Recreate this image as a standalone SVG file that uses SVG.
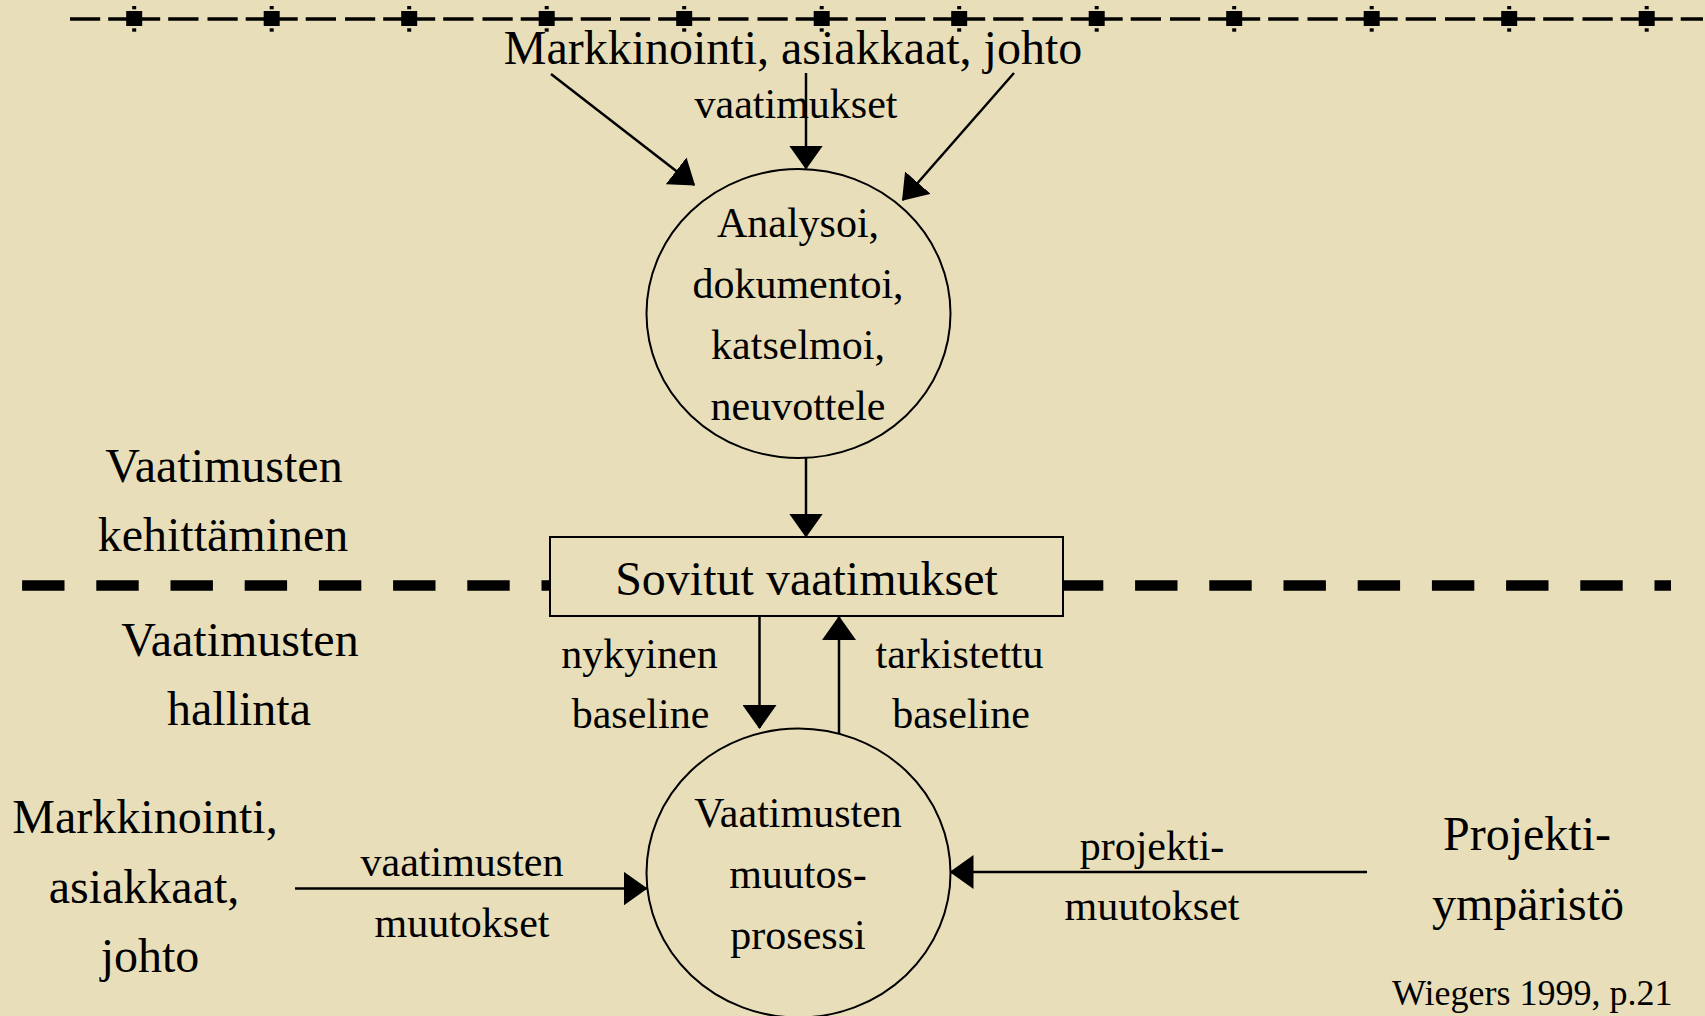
<svg xmlns="http://www.w3.org/2000/svg" width="1705" height="1016" viewBox="0 0 1705 1016">
  <style>
    .t { font-family: "Liberation Serif", "Times New Roman", serif; fill: #000; text-anchor: middle; }
    .big { font-size: 48px; }
    .mid { font-size: 42px; }
    .sm { font-size: 36px; }
    .edge { stroke: #000; stroke-width: 2.5; fill: none; }
    .node { stroke: #000; stroke-width: 2; fill: #E8DFBA; }
  </style>
  <defs>
    <marker id="arr" viewBox="0 0 24 34" refX="23" refY="17" markerWidth="24" markerHeight="34" markerUnits="userSpaceOnUse" orient="auto">
      <path d="M0,0 L24,17 L0,34 Z" fill="#000"/>
    </marker>
    <g id="tick">
      <rect x="-8" y="11" width="16" height="15" fill="#000"/>
      <rect x="-2" y="6" width="4" height="3.3" fill="#000"/>
      <rect x="-2" y="28.3" width="4" height="3.4" fill="#000"/>
    </g>
  </defs>

  <rect x="0" y="0" width="1705" height="1016" fill="#E8DFBA"/>

  <g id="top-border">
    <line x1="70" y1="19" x2="1703" y2="19" stroke="#000" stroke-width="3.3" stroke-dasharray="30.3 9 30.2 8 52 8" stroke-dashoffset="39.3"/>
    <use href="#tick" x="134.2"/>
    <use href="#tick" x="271.7"/>
    <use href="#tick" x="409.2"/>
    <use href="#tick" x="546.7"/>
    <use href="#tick" x="684.2"/>
    <use href="#tick" x="821.7"/>
    <use href="#tick" x="959.2"/>
    <use href="#tick" x="1096.7"/>
    <use href="#tick" x="1234.2"/>
    <use href="#tick" x="1371.7"/>
    <use href="#tick" x="1509.2"/>
    <use href="#tick" x="1646.7"/>
  </g>

  <g id="divider">
    <line x1="22.1" y1="585.5" x2="1671" y2="585.5" stroke="#000" stroke-width="10.5" stroke-dasharray="42.4 31.8"/>
  </g>

  <g id="section-labels">
    <text class="t big" x="224" y="482">Vaatimusten</text>
    <text class="t big" x="223" y="551">kehittäminen</text>
    <text class="t big" x="240" y="656">Vaatimusten</text>
    <text class="t big" x="239" y="725">hallinta</text>
  </g>

  <g id="source-top">
    <text class="t big" x="793" y="64">Markkinointi, asiakkaat, johto</text>
  </g>

  <g id="analysoi">
    <ellipse class="node" cx="798.5" cy="313.5" rx="152" ry="144.5"/>
    <text class="t mid" x="798" y="237">Analysoi,</text>
    <text class="t mid" x="798" y="298">dokumentoi,</text>
    <text class="t mid" x="798" y="359">katselmoi,</text>
    <text class="t mid" x="798" y="420">neuvottele</text>
  </g>

  <g id="sovitut">
    <rect class="node" x="550" y="537" width="513" height="79"/>
    <text class="t big" x="806.5" y="595">Sovitut vaatimukset</text>
  </g>

  <g id="muutosprosessi">
    <ellipse class="node" cx="798.5" cy="873" rx="152" ry="144.5"/>
    <text class="t mid" x="798" y="827">Vaatimusten</text>
    <text class="t mid" x="798" y="888">muutos-</text>
    <text class="t mid" x="798" y="949">prosessi</text>
  </g>

  <g id="source-left">
    <text class="t big" x="145" y="833">Markkinointi,</text>
    <text class="t big" x="144" y="903">asiakkaat,</text>
    <text class="t big" x="150" y="972">johto</text>
  </g>

  <g id="projektiymparisto">
    <text class="t big" x="1527" y="850">Projekti-</text>
    <text class="t big" x="1528" y="920">ympäristö</text>
  </g>

  <g id="connectors">
    <line class="edge" x1="551" y1="74" x2="694.3" y2="185" marker-end="url(#arr)"/>
    <line class="edge" x1="806" y1="73" x2="806" y2="168.5" marker-end="url(#arr)"/>
    <line class="edge" x1="1014" y1="73" x2="902.7" y2="200" marker-end="url(#arr)"/>
    <line class="edge" x1="806" y1="458" x2="806" y2="536.5" marker-end="url(#arr)"/>
    <line class="edge" x1="759.5" y1="616" x2="759.5" y2="728" marker-end="url(#arr)"/>
    <line class="edge" x1="839" y1="734" x2="839" y2="617" marker-end="url(#arr)"/>
    <line class="edge" x1="295" y1="888.5" x2="646.5" y2="888.5" marker-end="url(#arr)"/>
    <line class="edge" x1="1367" y1="872" x2="950.5" y2="872" marker-end="url(#arr)"/>
  </g>

  <g id="connector-labels">
    <text class="t mid" x="796" y="118">vaatimukset</text>
    <text class="t mid" x="639.5" y="668">nykyinen</text>
    <text class="t mid" x="640.5" y="728">baseline</text>
    <text class="t mid" x="959.5" y="668">tarkistettu</text>
    <text class="t mid" x="961" y="728">baseline</text>
    <text class="t mid" x="462" y="876">vaatimusten</text>
    <text class="t mid" x="462" y="937">muutokset</text>
    <text class="t mid" x="1152" y="860">projekti-</text>
    <text class="t mid" x="1152" y="920">muutokset</text>
  </g>

  <text class="t sm" x="1392" y="1005" style="text-anchor:start">Wiegers 1999, p.21</text>
</svg>
